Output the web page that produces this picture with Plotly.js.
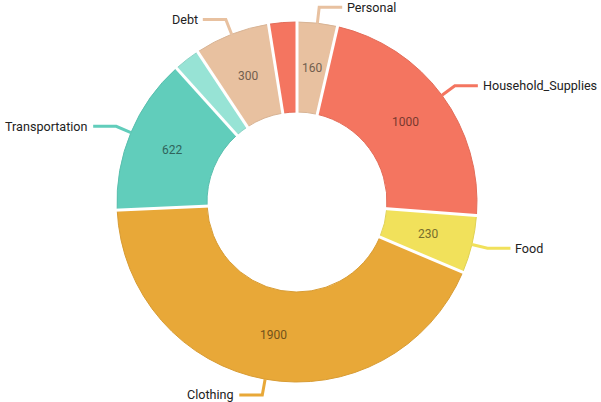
<!DOCTYPE html>
<html>
<head>
<meta charset="utf-8">
<script src="https://cdn.plot.ly/plotly-3.0.1.min.js"></script>
<style>html,body{margin:0;padding:0;background:#fff;}#chart{width:601px;height:402px;}</style>
</head>
<body>
<div id="chart"></div>
<script>
// Data
const categories = ["Personal", "Household_Supplies", "Food", "Clothing", "Transportation", "Insurance", "Debt", "Entertainment"];
const values = [160, 1000, 230, 1900, 622, 105, 300, 112];
const colors = ["#e8c1a0", "#f47560", "#f1e15b", "#e8a838", "#61cdbb", "#97e3d5", "#e8c1a0", "#f47560"];

// Geometry of the figure
const W = 601, H = 402;
const cx = 297, cy = 202, R = 180, hole = 0.5;
const skipAngleDeg = 10;

function darker(hex, k) {
  const f = Math.pow(0.7, k);
  const n = parseInt(hex.slice(1), 16);
  const r = Math.round(((n >> 16) & 255) * f), g = Math.round(((n >> 8) & 255) * f), b = Math.round((n & 255) * f);
  return "rgb(" + r + "," + g + "," + b + ")";
}
function px(r, t) { return [cx + r * Math.sin(t), cy - r * Math.cos(t)]; }
function toPaper(p) { return [p[0] / W, 1 - p[1] / H]; }

const total = values.reduce((a, b) => a + b, 0);
const shapes = [];
const annotations = [];
let cum = 0;
const Rin = R * hole;
values.forEach((v, i) => {
  const a0 = cum / total * 2 * Math.PI;
  cum += v;
  const a1 = cum / total * 2 * Math.PI;
  const mid = (a0 + a1) / 2;
  // gap at start boundary
  const g0 = toPaper(px(Rin - 3, a0)), g1 = toPaper(px(R + 3, a0));
  shapes.push({type: "line", xref: "paper", yref: "paper", x0: g0[0], y0: g0[1], x1: g1[0], y1: g1[1],
    line: {color: "#ffffff", width: 3}, layer: "above"});
  const spanDeg = (a1 - a0) * 180 / Math.PI;
  if (spanDeg < skipAngleDeg) return;
  // value label
  const lp = toPaper(px((Rin + R) / 2, mid));
  annotations.push({x: lp[0], y: lp[1], xref: "paper", yref: "paper", text: String(v), showarrow: false,
    xanchor: "center", yanchor: "middle", font: {family: "Roboto", size: 12, color: darker(colors[i], 2)}});
  // link label
  const p0 = px(R, mid), p1 = px(R + 16, mid);
  const right = Math.sin(mid) >= 0;
  const p2 = [p1[0] + (right ? 23 : -23), p1[1]];
  const q0 = toPaper(p0), q1 = toPaper(p1), q2 = toPaper(p2);
  shapes.push({type: "path", xref: "paper", yref: "paper",
    path: "M " + q0[0] + "," + q0[1] + " L " + q1[0] + "," + q1[1] + " L " + q2[0] + "," + q2[1],
    line: {color: colors[i], width: 3}, fillcolor: "rgba(0,0,0,0)", layer: "above"});
  const tp = toPaper([p2[0] + (right ? 3 : -3), p2[1]]);
  annotations.push({x: tp[0], y: tp[1], xref: "paper", yref: "paper", text: categories[i], showarrow: false,
    xanchor: right ? "left" : "right", yanchor: "middle", font: {family: "Roboto", size: 12.6, color: "#222222"}});
});

const trace = {
  type: "pie",
  labels: categories,
  values: values,
  sort: false,
  direction: "clockwise",
  rotation: 0,
  hole: hole,
  textinfo: "none",
  textposition: "none",
  hoverinfo: "label+value",
  marker: {colors: colors, line: {color: colors.map(c => darker(c, 0.2)), width: 1}},
  domain: {x: [(cx - R) / W, (cx + R) / W], y: [1 - (cy + R) / H, 1 - (cy - R) / H]}
};

Plotly.newPlot("chart", [trace], {
  width: W, height: H,
  margin: {l: 0, r: 0, t: 0, b: 0},
  showlegend: false,
  paper_bgcolor: "#ffffff",
  font: {family: "Roboto"},
  shapes: shapes,
  annotations: annotations
}, {displayModeBar: false, staticPlot: true});
</script>
</body>
</html>
